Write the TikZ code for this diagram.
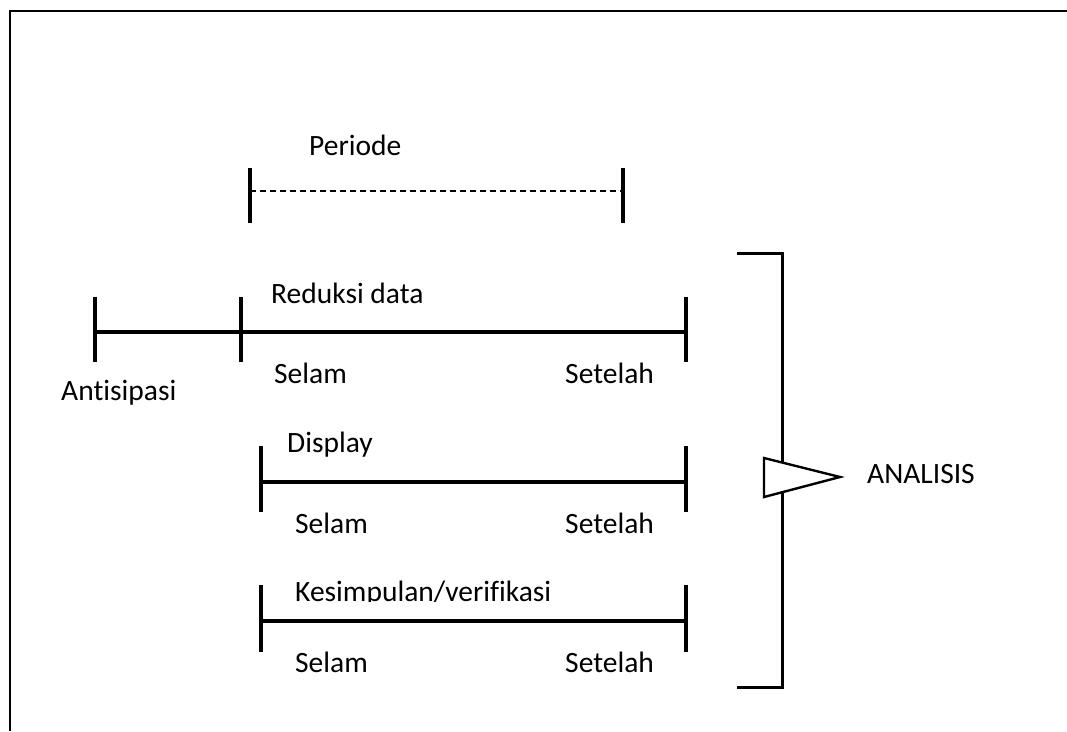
\documentclass[tikz,border=0pt]{standalone}
\usepackage{fontspec}
\setmainfont{Carlito}[Ligatures=NoCommon]
\begin{document}
\begin{tikzpicture}[x=1pt,y=-1pt,
  tick/.style={line width=4.5pt},
  axis/.style={line width=3.2pt},
  lbl/.style={anchor=base west,inner sep=0pt,font=\fontsize{29.5}{34}\selectfont}]
\useasboundingbox (0,0) rectangle (1067,731);
% frame: top and left edges only
\coordinate (fl) at (10,731);
\coordinate (ftl) at (10,11);
\coordinate (fr) at (1067,11);
\draw[line width=2.8pt] (fl) -- (ftl) -- (fr);

% Periode
\coordinate (p1a) at (250,168); \coordinate (p1b) at (250,223);
\coordinate (p2a) at (623,168); \coordinate (p2b) at (623,223);
\coordinate (p1) at (250,191); \coordinate (p2) at (623,191);
\draw[tick] (p1a) -- (p1b);
\draw[tick] (p2a) -- (p2b);
\draw[line width=1.2pt,dash pattern=on 6pt off 4pt] (p1) -- (p2);
\node[lbl] (periode) at (309,155) {Periode};

% Reduksi data
\coordinate (r0a) at (95,297); \coordinate (r0b) at (95,362);
\coordinate (r1a) at (241,297); \coordinate (r1b) at (241,362);
\coordinate (r2a) at (686,297); \coordinate (r2b) at (686,362);
\coordinate (r0) at (95,332); \coordinate (r2) at (686,332);
\draw[tick] (r0a) -- (r0b);
\draw[tick] (r1a) -- (r1b);
\draw[tick] (r2a) -- (r2b);
\draw[axis] (r0) -- (r2);
\node[lbl] (reduksi) at (271,303) {Reduksi data};
\node[lbl] (rselam) at (274,383) {Selam};
\node[lbl] (rsetelah) at (565,383) {Setelah};
\node[lbl] (antisipasi) at (61,400) {Antisipasi};

% Display
\coordinate (d1a) at (261,446); \coordinate (d1b) at (261,512);
\coordinate (d2a) at (686,446); \coordinate (d2b) at (686,512);
\coordinate (d1) at (261,482); \coordinate (d2) at (686,482);
\draw[tick] (d1a) -- (d1b);
\draw[tick] (d2a) -- (d2b);
\draw[axis] (d1) -- (d2);
\node[lbl] (display) at (287,452) {Display};
\node[lbl] (dselam) at (295,533) {Selam};
\node[lbl] (dsetelah) at (565,533) {Setelah};

% Kesimpulan/verifikasi
\coordinate (k1a) at (261,585); \coordinate (k1b) at (261,652);
\coordinate (k2a) at (686,585); \coordinate (k2b) at (686,652);
\coordinate (k1) at (261,621); \coordinate (k2) at (686,621);
\draw[tick] (k1a) -- (k1b);
\draw[tick] (k2a) -- (k2b);
\draw[axis] (k1) -- (k2);
\begin{scope}
  \clip (280,570) rectangle (600,601);
  \node[lbl] (kesimpulan) at (295,601) {Kesimpulan/verifikasi};
\end{scope}
\node[lbl] (kselam) at (295,672) {Selam};
\node[lbl] (ksetelah) at (565,672) {Setelah};

% bracket
\coordinate (bt) at (737,253); \coordinate (btr) at (782,253);
\coordinate (bbr) at (782,687); \coordinate (bb) at (737,687);
\draw[line width=3pt,line join=miter] (bt) -- (btr) -- (bbr) -- (bb);

% triangle pointer
\coordinate (ta) at (764,458); \coordinate (tb) at (840,477); \coordinate (tc) at (764,497);
\draw[line width=2.4pt,fill=white,line join=miter] (ta) -- (tb) -- (tc) -- cycle;
\node[lbl] (analisis) at (867,483) {ANALISIS};
\end{tikzpicture}
\end{document}
